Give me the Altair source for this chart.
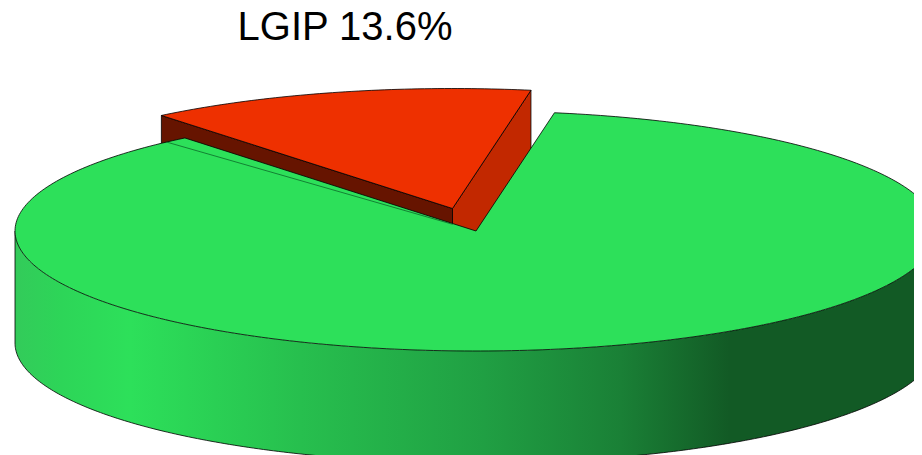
import numpy as np
import pandas as pd
import altair as alt

# Chart values
labels = ["LGIP", "Other"]
shares = [13.6, 86.4]

# Pie styling (radius = 1 unit)
START_DEG = 80.2
TILT = 120 / 461
DEPTH = 112 / 461
EXPLODE = (-23.5 / 461, 22.5 / 461)
X_DOMAIN = [(8 - 476) / 461, (914 - 476) / 461]
Y_DOMAIN = [(230 - 455) / 461, (230 - 8) / 461]
green = "#2de05a"
red_top, red_right, red_left = "#ee3000", "#c22800", "#661400"
wall_stops = [
    (0.0, "#33cb5a"), (0.05, "#2dd558"), (0.125, "#2de05a"), (0.31, "#27bf4e"),
    (0.51, "#209f43"), (0.657, "#1a8036"), (0.775, "#125a25"), (1.0, "#125a25"),
]

sweep = shares[0] / sum(shares) * 360
t0, t1 = START_DEG, START_DEG + sweep


def rim(a, b, n=160):
    return np.radians(np.linspace(a, b, n))


def frame(xs, ys):
    return pd.DataFrame({"x": xs, "y": ys, "i": np.arange(len(xs))})


X = alt.X("x:Q", scale=alt.Scale(domain=X_DOMAIN, nice=False, zero=False), axis=None)
Y = alt.Y("y:Q", scale=alt.Scale(domain=Y_DOMAIN, nice=False, zero=False), axis=None)


def poly(df, fill, stroke="#000000", sw=0.8):
    return alt.Chart(df).mark_line(
        fill=fill, stroke=stroke, strokeWidth=sw, clip=True, interpolate="linear-closed"
    ).encode(x=X, y=Y, order="i:Q")


# Exploded LGIP wedge
dx, dy = EXPLODE
a0, a1 = np.radians(t0), np.radians(t1)
ap = (dx, dy)
p0 = (np.cos(a0) + dx, TILT * np.sin(a0) + dy)
p1 = (np.cos(a1) + dx, TILT * np.sin(a1) + dy)
wall_right = frame([ap[0], p0[0], p0[0], ap[0]], [ap[1], p0[1], p0[1] - DEPTH, ap[1] - DEPTH])
wall_left = frame([ap[0], p1[0], p1[0], ap[0]], [ap[1], p1[1], p1[1] - DEPTH, ap[1] - DEPTH])
ts = rim(t0, t1, 60)
red_face = frame(
    np.r_[ap[0], np.cos(ts) + dx],
    np.r_[ap[1], TILT * np.sin(ts) + dy],
)

# Main slice side wall
tw = rim(180, 360, 260)
wall = pd.DataFrame({"x": np.cos(tw), "y": TILT * np.sin(tw), "y2": TILT * np.sin(tw) - DEPTH})
wall_area = alt.Chart(wall).mark_area(
    clip=True,
    color=alt.Gradient(
        gradient="linear", x1=0, x2=1, y1=0, y2=0,
        stops=[alt.GradientStop(offset=o, color=c) for o, c in wall_stops],
    ),
).encode(x=X, y=Y, y2="y2:Q")
wall_base = alt.Chart(frame(np.r_[-1, np.cos(tw)], np.r_[0, TILT * np.sin(tw) - DEPTH])).mark_line(
    stroke="#000000", strokeWidth=0.8, clip=True
).encode(x=X, y=Y, order="i:Q")

# Main slice top
tg = rim(t1, t0 + 360, 320)
green_face = frame(np.r_[0.0, np.cos(tg)], np.r_[0.0, TILT * np.sin(tg)])

# Thin seam on the main slice
seam_a = np.radians(t1 + 3)
seam_f = 0.925
seam = frame(
    [np.cos(seam_a), np.cos(seam_a) * (1 - seam_f)],
    [TILT * np.sin(seam_a), TILT * np.sin(seam_a) * (1 - seam_f)],
)
seam_line = alt.Chart(seam).mark_line(stroke="#0c6a2a", strokeWidth=0.8, clip=True).encode(
    x=X, y=Y, order="i:Q"
)

# Label
label_df = pd.DataFrame({
    "x": [(345 - 476) / 461],
    "y": [(230 - 27) / 461],
    "t": [f"{labels[0]} {shares[0]}%"],
})
label = alt.Chart(label_df).mark_text(
    font="Liberation Sans", fontSize=40, color="#000000", align="center", baseline="middle"
).encode(x=X, y=Y, text="t:N")

chart = alt.layer(
    poly(wall_left, red_left),
    poly(wall_right, red_right),
    poly(red_face, red_top),
    wall_area,
    wall_base,
    poly(green_face, green),
    seam_line,
    label,
).properties(width=906, height=447, padding=0, background="#ffffff").configure_view(stroke=None)

chart.save("out.html", embed_options={"renderer": "svg", "actions": False})
